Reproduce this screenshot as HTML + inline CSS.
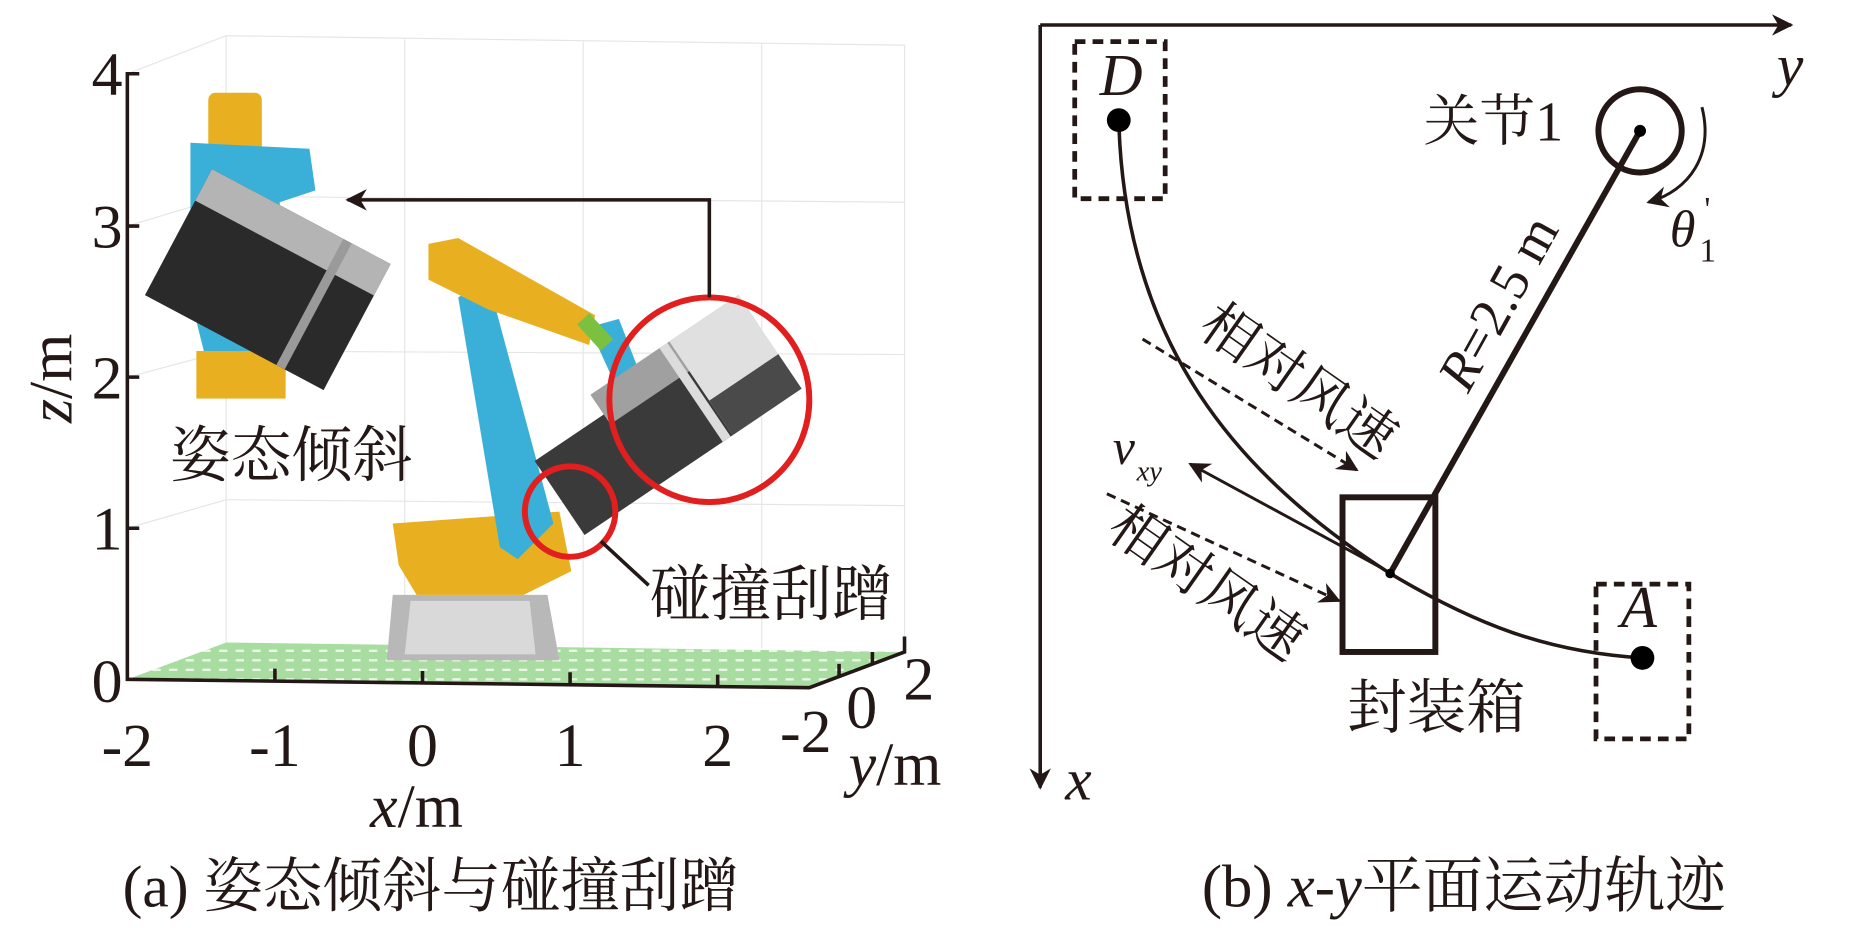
<!DOCTYPE html>
<html><head><meta charset="utf-8"><style>
html,body{margin:0;padding:0;background:#fff;}
svg{display:block;}
</style></head><body>
<svg width="1865" height="928" viewBox="0 0 1567 780" preserveAspectRatio="none" xmlns="http://www.w3.org/2000/svg">
<defs>
<marker id="ah2" viewBox="0 0 10 10" refX="9" refY="5" markerWidth="26" markerHeight="18" orient="auto" markerUnits="userSpaceOnUse"><path d="M0,0 L10,5 L0,10 L3,5 z" fill="#231815"/></marker>
<pattern id="gp" width="14" height="8" patternUnits="userSpaceOnUse"><rect width="14" height="8" fill="#a8dca0"/><rect x="2" y="2" width="7" height="2" fill="#eaf6e6"/></pattern>
</defs>
<g stroke="#e6e6e6" stroke-width="1" fill="none">
<path d="M107,62 L190,30 L760,38 L760,548"/>
<path d="M190,30 L190,540"/>
<path d="M340,33 L340,545 M490,35 L490,545 M640,36 L640,545"/>
<path d="M190,165 L760,170 M190,295 L760,298 M190,420 L760,425"/>
<path d="M107,190 L190,165 M107,317 L190,295 M107,444 L190,420"/>
</g>
<path d="M107,571 L680,578 L760,548 L190,540 Z" fill="url(#gp)"/>
<g stroke="#231815" stroke-width="3" fill="none">
<path d="M117,62 L107,62 L107,571 L680,578 L760,548 L760,535"/>
<path d="M107,190 L117,190 M107,317 L117,317 M107,444 L117,444"/>
<path d="M231,572 L231,562 M355,574 L355,564 M479,575 L479,565 M603,577 L603,567"/>
<path d="M705,568 L705,558 M733,558 L733,548"/>
</g>
<g font-family="Liberation Serif, Noto Serif CJK SC, serif" fill="#231815" font-size="52">
<text x="90" y="80" text-anchor="middle">4</text>
<text x="90" y="208" text-anchor="middle">3</text>
<text x="90" y="335" text-anchor="middle">2</text>
<text x="90" y="462" text-anchor="middle">1</text>
<text x="90" y="590" text-anchor="middle">0</text>
<text x="107" y="644" text-anchor="middle">-2</text>
<text x="231" y="644" text-anchor="middle">-1</text>
<text x="355" y="644" text-anchor="middle">0</text>
<text x="479" y="644" text-anchor="middle">1</text>
<text x="603" y="644" text-anchor="middle">2</text>
<text x="677" y="632" text-anchor="middle">-2</text>
<text x="724" y="612" text-anchor="middle">0</text>
<text x="772" y="588" text-anchor="middle">2</text>
<text x="350" y="695" text-anchor="middle"><tspan font-style="italic">x</tspan>/m</text>
<text x="752" y="660" text-anchor="middle"><tspan font-style="italic">y</tspan>/m</text>
<text transform="translate(60,318) rotate(-90)" text-anchor="middle"><tspan font-style="italic">z</tspan>/m</text>
</g>
<g>
<rect x="175" y="78" width="45" height="70" fill="#e8b020" rx="6"/>
<path d="M160,120 L260,125 L265,160 L235,170 L240,300 L210,320 L175,310 L160,250 Z" fill="#3ab0d8"/>
<rect x="165" y="295" width="75" height="40" fill="#e8b020"/>
<g transform="translate(225,235) rotate(28)">
<rect x="-85" y="-60" width="170" height="120" fill="#2a2a2a"/>
<rect x="-85" y="-60" width="170" height="30" fill="#b4b4b4"/>
<rect x="40" y="-60" width="8" height="120" fill="#9a9a9a"/>
</g>
</g>
<g>
<path d="M330,500 L460,500 L470,555 L325,555 Z" fill="#b8b8b8"/>
<path d="M345,505 L445,505 L450,550 L340,550 Z" fill="#d9d9d9"/>
<path d="M330,440 L470,430 L480,480 L440,500 L350,500 L335,475 Z" fill="#e8b020"/>
<path d="M385,250 L410,235 L465,440 L435,470 L420,460 Z" fill="#3ab0d8"/>
<path d="M360,205 L385,200 L500,265 L495,290 L410,260 L360,235 Z" fill="#e8b020"/>
<path d="M495,275 L520,268 L540,320 L520,330 Z" fill="#3ab0d8"/>
<path d="M490,268 L510,290" stroke="#7cc040" stroke-width="14"/>
<g transform="translate(560,355) rotate(-34)">
<rect x="-110" y="-35" width="200" height="75" fill="#3a3a3a"/>
<rect x="-40" y="-55" width="150" height="30" fill="#a0a0a0"/>
<rect x="40" y="-55" width="70" height="95" fill="#e0e0e0"/>
<rect x="40" y="5" width="70" height="35" fill="#4a4a4a"/>
<rect x="30" y="-55" width="8" height="95" fill="#dcdcdc"/>
</g>
</g>
<ellipse cx="596" cy="336" rx="84" ry="86" fill="none" stroke="#e11f1f" stroke-width="5"/>
<circle cx="479" cy="430" r="38" fill="none" stroke="#e11f1f" stroke-width="5"/>
<path d="M596,250 L596,168 L292,168" fill="none" stroke="#231815" stroke-width="3" marker-end="url(#ah2)"/>
<path d="M505,455 L545,492" stroke="#231815" stroke-width="3"/>
<g font-family="Liberation Serif, Noto Serif CJK SC, serif" fill="#231815" font-size="51">
<text x="143" y="400">姿态倾斜</text>
<text x="546" y="517">碰撞刮蹭</text>
<text x="103" y="762" font-size="50">(a) 姿态倾斜与碰撞刮蹭</text>
</g>

<g stroke="#231815" stroke-width="3" fill="none">
<path d="M874,21 L1505,21" marker-end="url(#ah2)"/>
<path d="M874,21 L874,662" marker-end="url(#ah2)"/>
<rect x="903" y="35" width="76" height="132" stroke-dasharray="9,6" stroke-width="4"/>
<rect x="1341" y="491" width="78" height="130" stroke-dasharray="9,6" stroke-width="4"/>
<circle cx="1378" cy="110" r="35" stroke-width="5"/>
<path d="M1378,110 L1168,482" stroke-width="5"/>
<rect x="1128" y="418" width="78" height="130" stroke-width="5"/>
<path d="M940,101 C945,290 1040,400 1168,482 C1240,525 1300,548 1380,553" stroke-width="3"/>
<path d="M1162,478 L1000,390" stroke-width="2.5" marker-end="url(#ah2)"/>
<path d="M960,285 L1140,395" stroke-width="2.5" stroke-dasharray="8,5" marker-end="url(#ah2)"/>
<path d="M930,415 L1125,505" stroke-width="2.5" stroke-dasharray="8,5" marker-end="url(#ah2)"/>
<path d="M1430,90 C1440,130 1420,160 1385,170" stroke-width="2.5" marker-end="url(#ah2)"/>
</g>
<circle cx="940" cy="101" r="10" fill="#000"/>
<circle cx="1380" cy="553" r="10" fill="#000"/>
<circle cx="1378" cy="110" r="5" fill="#000"/>
<circle cx="1168" cy="482" r="4" fill="#000"/>
<g font-family="Liberation Serif, Noto Serif CJK SC, serif" fill="#231815" font-size="50">
<text x="1493" y="72" font-style="italic">y</text>
<text x="895" y="672" font-style="italic">x</text>
<text x="942" y="80" font-style="italic" text-anchor="middle">D</text>
<text x="1377" y="527" font-style="italic" text-anchor="middle">A</text>
<text x="1196" y="118" font-size="47">关节1</text>
<text x="1403" y="207" font-style="italic" font-size="44">θ</text>
<text x="1428" y="220" font-size="28">1</text>
<text x="1432" y="185" font-size="28">'</text>
<text transform="translate(1272,262) rotate(-61)" text-anchor="middle" font-size="46"><tspan font-style="italic">R</tspan>=2.5 m</text>
<text transform="translate(1082,333) rotate(35)" text-anchor="middle" font-size="47">相对风速</text>
<text transform="translate(1005,503) rotate(35)" text-anchor="middle" font-size="47">相对风速</text>
<text x="935" y="390" font-style="italic" font-size="42">v</text>
<text x="955" y="404" font-style="italic" font-size="24">xy</text>
<text x="1207" y="612" text-anchor="middle" font-size="50">封装箱</text>
<text x="1230" y="762" text-anchor="middle" font-size="51">(b) <tspan font-style="italic">x</tspan>-<tspan font-style="italic">y</tspan>平面运动轨迹</text>
</g>
</svg>
</body></html>
